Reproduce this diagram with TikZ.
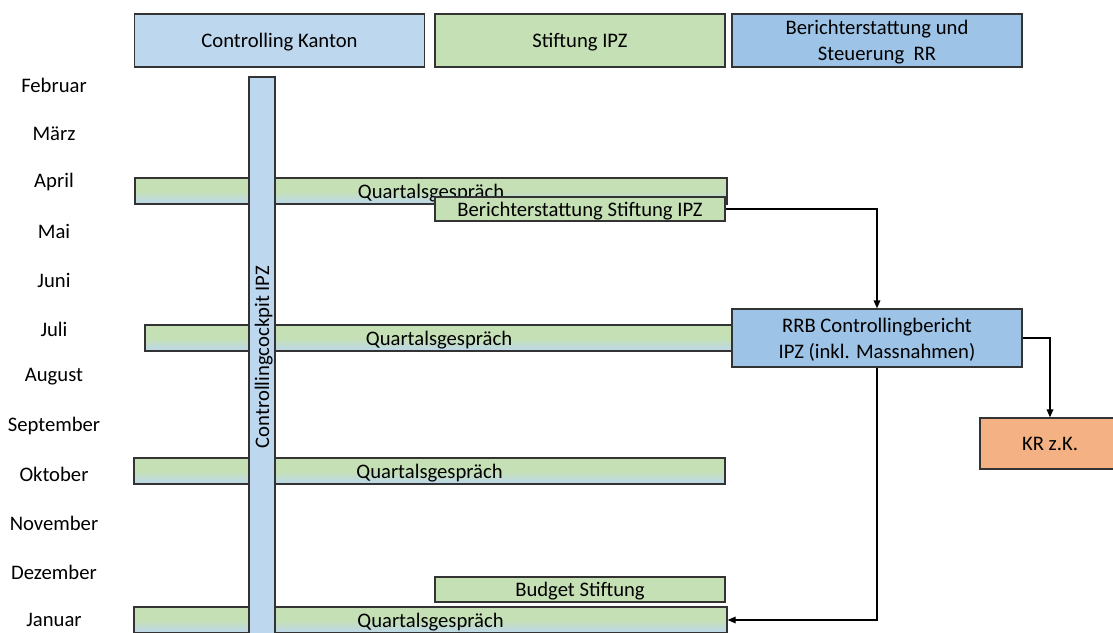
\documentclass[tikz,border=0pt]{standalone}
\usepackage{fontspec}
\setmainfont{Carlito}
\usetikzlibrary{arrows.meta}

\definecolor{kantonblue}{HTML}{BDD7EE}
\definecolor{stiftgreen}{HTML}{C5E0B4}
\definecolor{rrblue}{HTML}{9DC3E6}
\definecolor{krorange}{HTML}{F4B183}

\tikzset{every picture/.style={line width=0.75pt}}
\tikzset{
  box/.style={draw=black!80, line width=1pt, inner sep=0pt, align=center, text depth=0pt, font=\fontsize{15.5}{19.5}\selectfont},
  qbar/.style={box, top color=stiftgreen, bottom color=kantonblue, middle color=stiftgreen, minimum height=19.5pt},
  month/.style={font=\fontsize{15.5}{19}\selectfont},
  flow/.style={draw=black, line width=1pt, -{Triangle[length=6pt,width=5pt]}}
}

\begin{document}
\begin{tikzpicture}[x=0.75pt,y=0.75pt,yscale=-1,xscale=1]
	\useasboundingbox (0,0) rectangle (1113,632);
	\clip (0,0) rectangle (1113,632);

	% Header boxes
	\node [box, fill=kantonblue, minimum width=217.5pt, minimum height=39.75pt] (kanton) at (279.5,40.5) {Controlling Kanton};
	\node [box, fill=stiftgreen, minimum width=217.5pt, minimum height=39.75pt] (stiftung) at (580,40.5) {Stiftung IPZ};
	\node [box, fill=rrblue, minimum width=217.5pt, minimum height=39.75pt] (steuerung) at (877,40.5) {Berichterstattung und\\Steuerung~~RR};

	% Month labels
	\node [month] (feb) at (54,85) {Februar};
	\node [month] (mar) at (54,134) {März};
	\node [month] (apr) at (54,182) {April};
	\node [month] (mai) at (54,231) {Mai};
	\node [month] (jun) at (54,280) {Juni};
	\node [month] (jul) at (54,329) {Juli};
	\node [month] (aug) at (54,377) {August};
	\node [month] (sep) at (54,426) {September};
	\node [month] (okt) at (54,474) {Oktober};
	\node [month] (nov) at (54,523) {November};
	\node [month] (dez) at (54,572) {Dezember};
	\node [month] (jan) at (54,620) {Januar};

	% Quartalsgespraeche
	\node [qbar, minimum width=444pt] (qapr) at (431,191) {Quartalsgespräch};
	\node [qbar, minimum width=441pt] (qjul) at (439,338) {Quartalsgespräch};
	\node [qbar, minimum width=443.25pt] (qokt) at (429.5,471) {Quartalsgespräch};
	\node [qbar, minimum width=444.75pt] (qjan) at (430.5,620) {Quartalsgespräch};

	% Controllingcockpit
	\node [box, fill=kantonblue, minimum width=420pt, minimum height=19.5pt, rotate=90] (cockpit) at (262,357) {Controllingcockpit IPZ};

	% Stiftung
	\node [box, fill=stiftgreen, minimum width=217.5pt, minimum height=18pt] (bericht) at (580,209) {Berichterstattung Stiftung IPZ};
	\node [box, fill=stiftgreen, minimum width=217.5pt, minimum height=18.75pt] (budget) at (580,589.5) {Budget Stiftung};

	% RR
	\node [box, fill=rrblue, minimum width=217.5pt, minimum height=43.5pt] (rrb) at (877,338) {RRB Controllingbericht\\IPZ (inkl. Massnahmen)};
	\node [box, fill=krorange, minimum width=105pt, minimum height=38.25pt] (kr) at (1050,443.5) {KR z.K.};

	% Connectors
	\draw [flow] (bericht.east) -| (rrb.north);
	\draw [flow] (rrb.east) -| (kr.north);
	\draw [flow] (rrb.south) |- (qjan.east);

\end{tikzpicture}
\end{document}
